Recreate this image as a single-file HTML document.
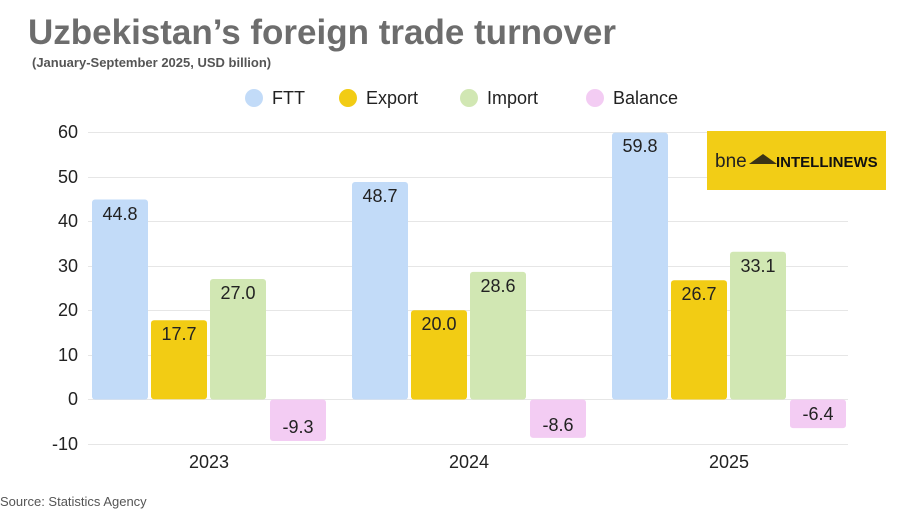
<!DOCTYPE html>
<html><head><meta charset="utf-8"><style>
body{margin:0;background:#fff;width:900px;height:510px;overflow:hidden}
svg text{font-family:"Liberation Sans",sans-serif}
</style></head><body>
<svg width="900" height="510" xmlns="http://www.w3.org/2000/svg">
<text x="28" y="44" font-size="35" font-weight="bold" fill="#6d6d6d">Uzbekistan’s foreign trade turnover</text>
<text x="32" y="67" font-size="13" font-weight="bold" fill="#555">(January-September 2025, USD billion)</text>
<g font-size="18" fill="#222">
<circle cx="254" cy="98" r="9" fill="#c2dbf8"/><text x="272" y="104">FTT</text>
<circle cx="348" cy="98" r="9" fill="#f2cc14"/><text x="366" y="104">Export</text>
<circle cx="469" cy="98" r="9" fill="#d1e7b3"/><text x="487" y="104">Import</text>
<circle cx="595" cy="98" r="9" fill="#f3ccf3"/><text x="613" y="104">Balance</text>
</g>
<g stroke="#e6e6e6" stroke-width="1">
<line x1="88" x2="848" y1="132.5" y2="132.5"/><line x1="88" x2="848" y1="177.5" y2="177.5"/>
<line x1="88" x2="848" y1="221.5" y2="221.5"/><line x1="88" x2="848" y1="266.5" y2="266.5"/>
<line x1="88" x2="848" y1="310.5" y2="310.5"/><line x1="88" x2="848" y1="355.5" y2="355.5"/>
<line x1="88" x2="848" y1="399.5" y2="399.5"/><line x1="88" x2="848" y1="444.5" y2="444.5"/>
</g>
<g font-size="18" fill="#222" text-anchor="end">
<text x="78" y="138">60</text><text x="78" y="183">50</text><text x="78" y="227">40</text>
<text x="78" y="272">30</text><text x="78" y="316">20</text><text x="78" y="361">10</text>
<text x="78" y="405">0</text><text x="78" y="450">-10</text>
</g>
<g>
<rect x="92" y="199.5" width="56" height="200" rx="3" fill="#c2dbf8"/>
<rect x="151" y="320.2" width="56" height="79" rx="3" fill="#f2cc14"/>
<rect x="210" y="279" width="56" height="120.5" rx="3" fill="#d1e7b3"/>
<rect x="270" y="399.5" width="56" height="41.5" rx="3" fill="#f3ccf3"/>
<rect x="352" y="182" width="56" height="217.5" rx="3" fill="#c2dbf8"/>
<rect x="411" y="310.3" width="56" height="89.2" rx="3" fill="#f2cc14"/>
<rect x="470" y="271.9" width="56" height="127.6" rx="3" fill="#d1e7b3"/>
<rect x="530" y="399.5" width="56" height="38.4" rx="3" fill="#f3ccf3"/>
<rect x="612" y="132.6" width="56" height="266.9" rx="3" fill="#c2dbf8"/>
<rect x="671" y="280.3" width="56" height="119.2" rx="3" fill="#f2cc14"/>
<rect x="730" y="251.8" width="56" height="147.7" rx="3" fill="#d1e7b3"/>
<rect x="790" y="399.5" width="56" height="28.6" rx="3" fill="#f3ccf3"/>
</g>
<g font-size="18" fill="#222" text-anchor="middle">
<text x="120" y="220">44.8</text><text x="179" y="340">17.7</text><text x="238" y="299">27.0</text><text x="298" y="433">-9.3</text>
<text x="380" y="202">48.7</text><text x="439" y="330">20.0</text><text x="498" y="292">28.6</text><text x="558" y="431">-8.6</text>
<text x="640" y="152">59.8</text><text x="699" y="300">26.7</text><text x="758" y="272">33.1</text><text x="818" y="420">-6.4</text>
<text x="209" y="468">2023</text><text x="469" y="468">2024</text><text x="729" y="468">2025</text>
</g>
<text x="0" y="506" font-size="13" fill="#555">Source: Statistics Agency</text>
<rect x="707" y="131" width="179" height="59" fill="#f2cd16"/>
<text x="715" y="167" font-size="19" fill="#222">bne</text>
<polygon points="749,164 763,154 777,164" fill="#3a3316"/>
<text x="776" y="167" font-size="15" font-weight="bold" fill="#111">INTELLINEWS</text>
</svg>
</body></html>
